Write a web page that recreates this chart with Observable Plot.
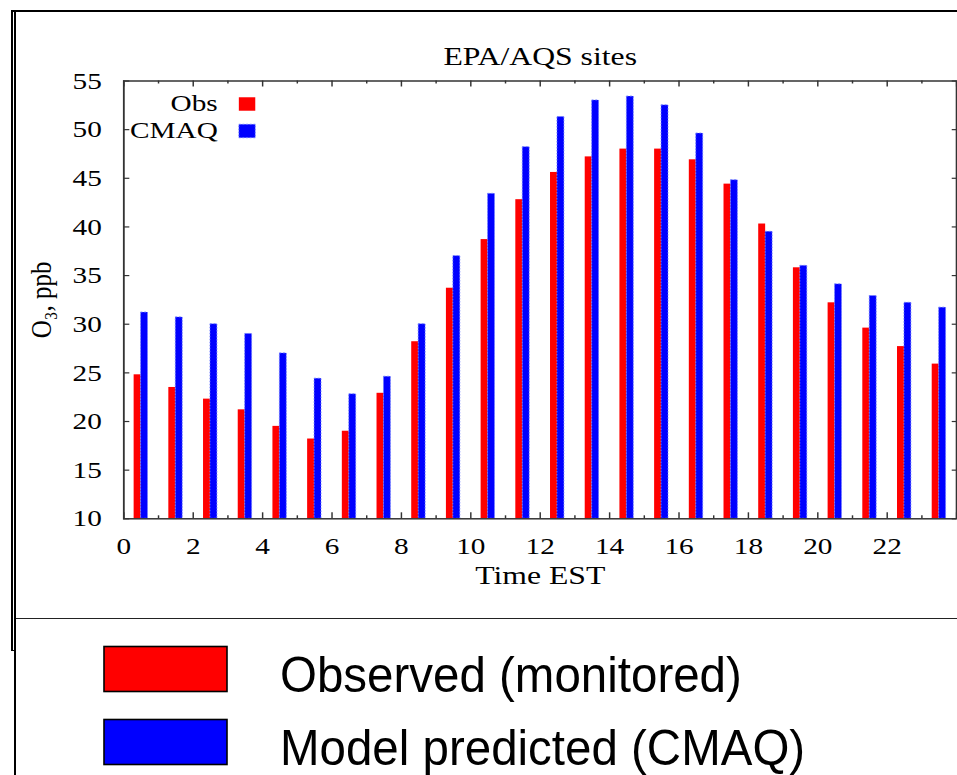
<!DOCTYPE html>
<html>
<head>
<meta charset="utf-8">
<script src="https://cdn.jsdelivr.net/npm/d3@7"></script>
<script src="https://cdn.jsdelivr.net/npm/@observablehq/plot@0.6"></script>
<style>
  html, body { margin: 0; padding: 0; background: #fff; }
  #page { position: relative; width: 957px; height: 775px; overflow: hidden; background: #fff; }
  #chart { position: absolute; left: 0; top: 0; transform: scaleX(1.22); transform-origin: 0 0; }
  #legend { position: absolute; left: 0; top: 0; }
  .ln { position: absolute; background: #000; }
</style>
</head>
<body>
<div id="page">
  <div id="chart"></div>
  <svg id="legend" width="957" height="775"></svg>
  <!-- frame lines -->
  <div class="ln" style="left:11px;top:10px;width:946px;height:2px;"></div>
  <div class="ln" style="left:11px;top:10px;width:1.7px;height:641px;"></div>
  <div class="ln" style="left:11px;top:649.5px;width:5px;height:1.5px;"></div>
  <div class="ln" style="left:14.3px;top:12px;width:1.7px;height:763px;"></div>
  <div class="ln" style="left:16px;top:617.5px;width:941px;height:1.6px;background:#222;"></div>
</div>
<script>
// ---------- data ----------
const hours = [0,1,2,3,4,5,6,7,8,9,10,11,12,13,14,15,16,17,18,19,20,21,22,23];
const obs   = [24.8,23.5,22.3,21.2,19.5,18.2,19.0,22.9,28.2,33.7,38.7,42.8,45.6,47.2,48.0,48.0,46.9,44.4,40.3,35.8,32.2,29.6,27.7,25.9];
const cmaq  = [31.2,30.7,30.0,29.0,27.0,24.4,22.8,24.6,30.0,37.0,43.4,48.2,51.3,53.0,53.4,52.5,49.6,44.8,39.5,36.0,34.1,32.9,32.2,31.7];
const seriesNames = ["Obs", "CMAQ"];
const seriesColors = ["#ff0000", "#0000ff"];
const xTickLabels = [0,2,4,6,8,10,12,14,16,18,20,22];
const yTickLabels = [10,15,20,25,30,35,40,45,50,55];
const hourTicks = [0,1,2,3,4,5,6,7,8,9,10,11,12,13,14,15,16,17,18,19,20,21,22,23,24];
const chartTitle = "EPA/AQS sites";
const xLabel = "Time EST";
const yLabel = "O\u2083, ppb";
const legendLabels = ["Observed (monitored)", "Model predicted (CMAQ)"];

const rows = hours.map((h, i) => ({hour: h, obs: obs[i], cmaq: cmaq[i]}));

// ---------- layout (unstretched coordinates) ----------
const W = 785, H = 618;
const ML = 101, MR = W - 783.6, MT = 80.5, MB = H - 518.3;
const frameW = W - ML - MR, frameH = H - MT - MB;
const serif = "'Liberation Serif', 'Times New Roman', serif";

const majorTicks = hourTicks.filter(h => h % 2 === 0);
const minorTicks = hourTicks.filter(h => h % 2 === 1);

const legendMarks = seriesNames.flatMap((name, i) => [
  Plot.text([name], {text: d => d, frameAnchor: "top-left", lineAnchor: "middle", dx: 77, dy: 22.8 + i * 27, textAnchor: "end", fontSize: 24, fontFamily: serif, fill: "#000"}),
  Plot.dot([name], {frameAnchor: "top-left", dx: 101, dy: 23 + i * 27, symbol: "square", r: 7.6, fill: seriesColors[i], stroke: i === 1 ? "#6f7fff" : "none", strokeWidth: 0.8, strokeDasharray: "1.5,1.5"})
]);

const chart = Plot.plot({
  width: W, height: H,
  marginLeft: ML, marginRight: MR, marginTop: MT, marginBottom: MB,
  style: {fontFamily: serif, fontSize: "24px", color: "#000", background: "transparent", overflow: "visible"},
  x: {domain: [0, 24]},
  y: {domain: [10, 55]},
  marks: [
    Plot.rect(rows, {x1: d => d.hour + 0.3, x2: d => d.hour + 0.5, y1: 10, y2: "obs", fill: seriesColors[0]}),
    Plot.rect(rows, {x1: d => d.hour + 0.5, x2: d => d.hour + 0.7, y1: 10, y2: "cmaq", fill: seriesColors[1], stroke: "#6f7fff", strokeWidth: 0.8, strokeDasharray: "1.5,1.5"}),
    // inward ticks (gnuplot style)
    Plot.tickY(yTickLabels, {y: d => d, insetRight: frameW - 5, stroke: "#333", strokeWidth: 1.2}),
    Plot.tickY(yTickLabels, {y: d => d, insetLeft: frameW - 3.5, stroke: "#333", strokeWidth: 1.2}),
    Plot.tickX(majorTicks, {x: d => d, insetTop: frameH - 6, stroke: "#333", strokeWidth: 1.2}),
    Plot.tickX(minorTicks, {x: d => d, insetTop: frameH - 3, stroke: "#333", strokeWidth: 1.2}),
    Plot.tickX(majorTicks, {x: d => d, insetBottom: frameH - 6, stroke: "#333", strokeWidth: 1.2}),
    Plot.tickX(minorTicks, {x: d => d, insetBottom: frameH - 3, stroke: "#333", strokeWidth: 1.2}),
    Plot.frame({stroke: "#333", strokeWidth: 1.5}),
    Plot.axisX(xTickLabels, {tickSize: 0, tickPadding: 18, label: null, fontSize: 24, fontFamily: serif}),
    Plot.axisY(yTickLabels, {tickSize: 0, tickPadding: 18, label: null, fontSize: 24, fontFamily: serif}),
    Plot.text([chartTitle], {text: d => d, frameAnchor: "top", lineAnchor: "middle", dy: -24.3, fontSize: 26, fill: "#000"}),
    Plot.text([xLabel], {text: d => d, frameAnchor: "bottom", lineAnchor: "middle", dy: 56.4, fontSize: 26, fill: "#000"}),
    Plot.text([yLabel], {text: d => d, frameAnchor: "left", lineAnchor: "middle", textAnchor: "middle", dx: -68, rotate: -90, fontSize: 25, fill: "#000"}),
    ...legendMarks
  ]
});
document.getElementById("chart").appendChild(chart);

// ---------- bottom legend ----------
const svg = d3.select("#legend");
const rowsY = [646.5, 719.5];
const sansFont = "'Liberation Sans', Arial, Helvetica, sans-serif";
const texts = legendLabels.map((lab, i) => {
  svg.append("rect")
    .attr("x", 104).attr("y", rowsY[i])
    .attr("width", 123).attr("height", 45)
    .attr("fill", seriesColors[i]).attr("stroke", "#000").attr("stroke-width", 1.6);
  return svg.append("text")
    .attr("font-family", sansFont)
    .attr("font-size", 50)
    .attr("fill", "#000")
    .text(lab);
});
// horizontal scale chosen so the first label spans its width in the reference (~462px)
const natural = texts[0].node().getComputedTextLength() || 486;
const sx = 462 / natural;
texts.forEach((t, i) => t.attr("transform", `translate(280, ${rowsY[i] + 45.5}) scale(${sx}, 1)`));
</script>
</body>
</html>
